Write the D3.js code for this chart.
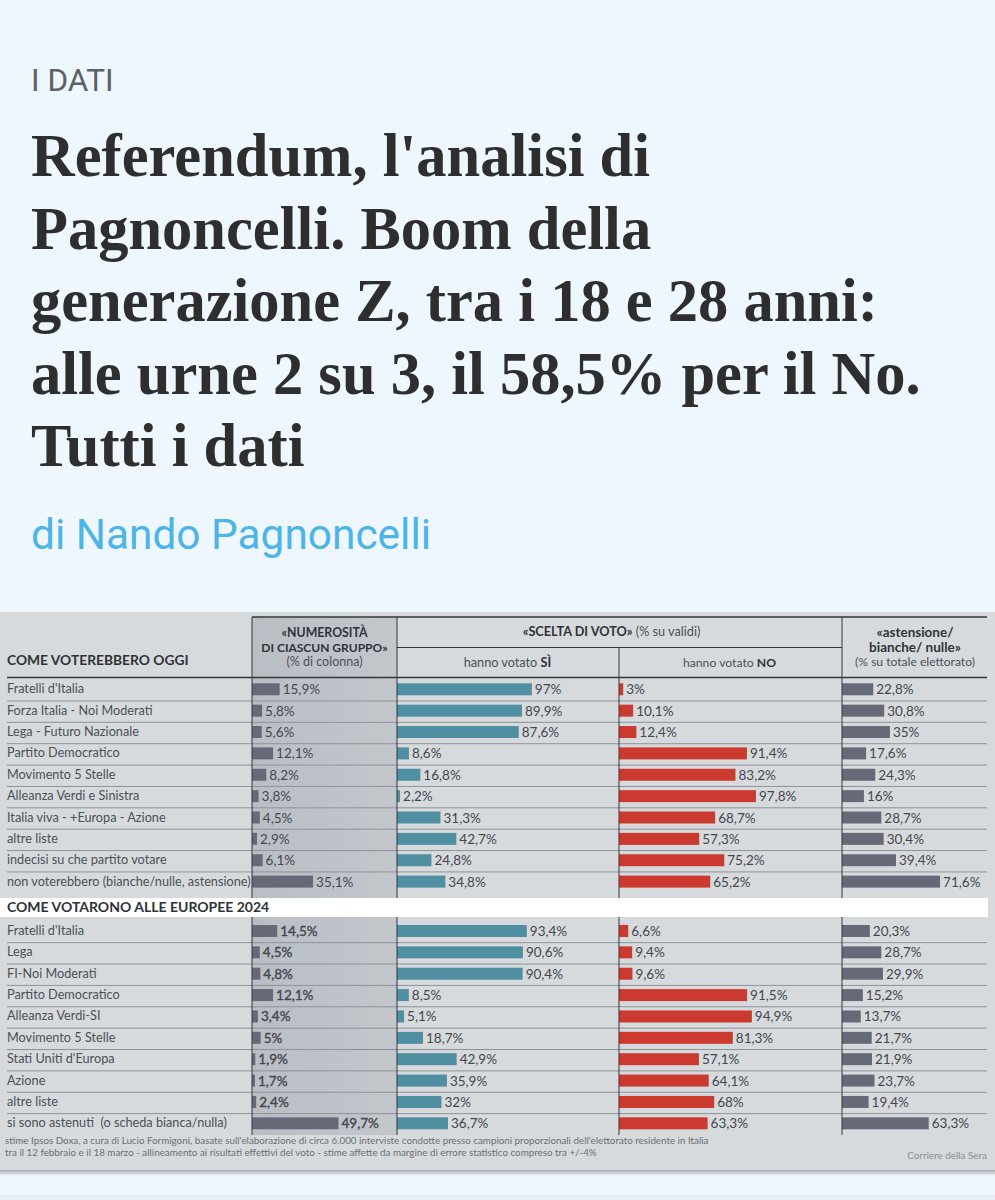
<!DOCTYPE html>
<html>
<head>
<meta charset="utf-8">
<script src="https://cdn.jsdelivr.net/npm/d3@7"></script>
<style>
  html, body { margin: 0; padding: 0; background: #eef7fe; }
  svg { display: block; }
</style>
</head>
<body>
<div class="chart"></div>
<script>
const titleLines = ["Referendum, l'analisi di", "Pagnoncelli. Boom della", "generazione Z, tra i 18 e 28 anni:", "alle urne 2 su 3, il 58,5% per il No.", "Tutti i dati"]

const namesOggi = ["Fratelli d'Italia", "Forza Italia - Noi Moderati", "Lega - Futuro Nazionale", "Partito Democratico", "Movimento 5 Stelle", "Alleanza Verdi e Sinistra", "Italia viva - +Europa - Azione", "altre liste", "indecisi su che partito votare", "non voterebbero (bianche/nulle, astensione)"]
const gruppoOggi = [15.9, 5.8, 5.6, 12.1, 8.2, 3.8, 4.5, 2.9, 6.1, 35.1]
const siOggi = [97, 89.9, 87.6, 8.6, 16.8, 2.2, 31.3, 42.7, 24.8, 34.8]
const noOggi = [3, 10.1, 12.4, 91.4, 83.2, 97.8, 68.7, 57.3, 75.2, 65.2]
const astOggi = [22.8, 30.8, 35, 17.6, 24.3, 16, 28.7, 30.4, 39.4, 71.6]

const namesEuropee = ["Fratelli d'Italia", "Lega", "FI-Noi Moderati", "Partito Democratico", "Alleanza Verdi-SI", "Movimento 5 Stelle", "Stati Uniti d'Europa", "Azione", "altre liste", "si sono astenuti  (o scheda bianca/nulla)"]
const gruppoEuropee = [14.5, 4.5, 4.8, 12.1, 3.4, 5, 1.9, 1.7, 2.4, 49.7]
const siEuropee = [93.4, 90.6, 90.4, 8.5, 5.1, 18.7, 42.9, 35.9, 32, 36.7]
const noEuropee = [6.6, 9.4, 9.6, 91.5, 94.9, 81.3, 57.1, 64.1, 68, 63.3]
const astEuropee = [20.3, 28.7, 29.9, 15.2, 13.7, 21.7, 21.9, 23.7, 19.4, 63.3]

const note1 = "stime Ipsos Doxa, a cura di Lucio Formigoni, basate sull'elaborazione di circa 6.000 interviste condotte presso campioni proporzionali dell'elettorato residente in Italia"
const note2 = "tra il 12 febbraio e il 18 marzo - allineamento ai risultati effettivi del voto - stime affette da margine di errore statistico compreso tra +/-4%"

const width = 995, height = 1200
const sans = "Lato, 'Open Sans', sans-serif"
const textCol = "#4b5056"
const ink = "#2f3338"

const svg = d3.select(".chart").append("svg")
    .attr("width", width)
    .attr("height", height)

const defs = svg.append("defs")
const grad = defs.append("linearGradient").attr("id", "colShade")
grad.append("stop").attr("offset", "0%").attr("stop-color", "#b9bec5")
grad.append("stop").attr("offset", "100%").attr("stop-color", "#c3c7cc")
const shadow = defs.append("linearGradient").attr("id", "panelShadow").attr("x2", 0).attr("y2", 1)
shadow.append("stop").attr("offset", "0%").attr("stop-color", "#a9adb1")
shadow.append("stop").attr("offset", "100%").attr("stop-color", "#eef7fe")

svg.append("rect").attr("width", width).attr("height", height).attr("fill", "#eef7fe")
svg.append("rect").attr("y", 1195).attr("width", width).attr("height", 5).attr("fill", "#e6edf3")

// page header
svg.append("text")
    .attr("x", 31).attr("y", 91)
    .attr("font-family", "Roboto, sans-serif").attr("font-size", 31.5)
    .attr("fill", "#5d6166")
    .text("I DATI")

svg.append("g").selectAll("text")
    .data(titleLines)
    .join("text")
    .attr("x", 31)
    .attr("y", (d, i) => 176 + i * 72.6)
    .attr("font-family", "'Liberation Serif', serif")
    .attr("font-weight", "bold")
    .attr("font-size", 60.5)
    .attr("fill", "#2e2e30")
    .text(d => d)

svg.append("text")
    .attr("x", 31).attr("y", 549)
    .attr("font-family", "Roboto, sans-serif").attr("font-size", 42.4)
    .attr("fill", "#4db4e8")
    .text("di Nando Pagnoncelli")

// panel
svg.append("rect").attr("x", 0).attr("y", 612).attr("width", width).attr("height", 558).attr("fill", "#d7dadd")
svg.append("rect").attr("x", 0).attr("y", 1170).attr("width", width).attr("height", 6).attr("fill", "url(#panelShadow)")

const colLeft = 252, colSi = 397, colNo = 619, colAst = 842, right = 987

svg.append("rect").attr("x", colLeft).attr("y", 617).attr("width", colSi - colLeft).attr("height", 518).attr("fill", "url(#colShade)")

// value scales, one per column
const xGruppo = d3.scaleLinear().domain([0, 100]).range([colLeft, colLeft + 174])
const xSi = d3.scaleLinear().domain([0, 100]).range([colSi, colSi + 139])
const xNo = d3.scaleLinear().domain([0, 100]).range([colNo, colNo + 140])
const xAst = d3.scaleLinear().domain([0, 100]).range([colAst, colAst + 137])

const it = d3.formatLocale({decimal: ",", thousands: ".", grouping: [3], currency: ["", "€"]})
const fmt = v => it.format(".1~f")(v) + "%"

function block(names, gruppo, si, no, ast, top, boldGruppo) {
    const y = d3.scaleBand().domain(d3.range(names.length)).range([top, top + 213.7])
    const g = svg.append("g")

    // row separators
    g.selectAll(".sep")
        .data(d3.range(1, names.length))
        .join("line")
        .attr("class", "sep")
        .attr("x1", 7).attr("x2", right)
        .attr("y1", d => y(d) + 1)
        .attr("y2", d => y(d) + 1)
        .attr("stroke", "#8e9399")
        .attr("stroke-width", 1)

    g.selectAll(".name")
        .data(names)
        .join("text")
        .attr("class", "name")
        .attr("x", 7)
        .attr("y", (d, i) => y(i) + y.bandwidth() / 2 + 4)
        .attr("font-family", sans).attr("font-size", 12.7)
        .attr("xml:space", "preserve")
        .attr("fill", textCol)
        .text(d => d)

    const cols = [
        {vals: gruppo, x: xGruppo, color: "#666a78", heavy: boldGruppo},
        {vals: si, x: xSi, color: "#4f8fa1", heavy: false},
        {vals: no, x: xNo, color: "#cc3a2f", heavy: false},
        {vals: ast, x: xAst, color: "#666a78", heavy: false}
    ]
    cols.forEach(c => {
        g.append("g").selectAll("rect")
            .data(c.vals)
            .join("rect")
            .attr("x", c.x(0))
            .attr("y", (d, i) => y(i) + y.bandwidth() / 2 - 6)
            .attr("width", d => c.x(d) - c.x(0))
            .attr("height", 12)
            .attr("fill", c.color)
        g.append("g").selectAll("text")
            .data(c.vals)
            .join("text")
            .attr("x", d => c.x(d) + 3)
            .attr("y", (d, i) => y(i) + y.bandwidth() / 2 + 5)
            .attr("font-family", sans).attr("font-size", 13.5)
            .attr("fill", "#43474d")
            .attr("stroke", c.heavy ? "#43474d" : "none")
            .attr("stroke-width", 0.35)
            .text(d => fmt(d))
    })
}

block(namesOggi, gruppoOggi, siOggi, noOggi, astOggi, 678.6, false)

// white band
svg.append("rect").attr("x", 0).attr("y", 898).attr("width", right + 1).attr("height", 19).attr("fill", "#ffffff")
svg.append("text")
    .attr("x", 7).attr("y", 912)
    .attr("font-family", sans).attr("font-size", 14).attr("font-weight", 700)
    .attr("fill", ink)
    .text("COME VOTARONO ALLE EUROPEE 2024")

block(namesEuropee, gruppoEuropee, siEuropee, noEuropee, astEuropee, 920.3, true)

// header rules
const rules = [
    [colLeft, 617, right, 617, 1.3],
    [colSi, 647.5, colAst, 647.5, 1],
    [7, 677.5, right, 677.5, 1.5],
    [colLeft, 617, colLeft, 898, 1],
    [colSi, 617, colSi, 898, 1],
    [colNo, 648, colNo, 898, 1],
    [colAst, 617, colAst, 898, 1],
    [colLeft, 917, colLeft, 1135, 1],
    [colSi, 917, colSi, 1135, 1],
    [colNo, 917, colNo, 1135, 1],
    [colAst, 917, colAst, 1135, 1]
]
svg.append("g").selectAll("line")
    .data(rules)
    .join("line")
    .attr("x1", d => d[0]).attr("y1", d => d[1])
    .attr("x2", d => d[2]).attr("y2", d => d[3])
    .attr("stroke-width", d => d[4])
    .attr("stroke", "#33373c")

function label(x, y, anchor, size, weight, color, txt) {
    return svg.append("text")
        .attr("x", x).attr("y", y)
        .attr("text-anchor", anchor)
        .attr("font-family", sans)
        .attr("font-size", size)
        .attr("font-weight", weight)
        .attr("fill", color)
        .text(txt)
}

label(7, 665, "start", 13.8, 700, ink, "COME VOTEREBBERO OGGI")
label(324.5, 637, "middle", 12.3, 700, ink, "«NUMEROSITÀ")
label(324.5, 651.5, "middle", 12, 700, ink, "DI CIASCUN GRUPPO»")
label(324.5, 666, "middle", 12.5, 400, textCol, "(% di colonna)")

const scelta = label(611.5, 636, "middle", 12.7, 700, ink, "«SCELTA DI VOTO»")
scelta.append("tspan").attr("font-weight", 400).attr("fill", textCol).text(" (% su validi)")

const siHead = label(507.5, 667, "middle", 12.7, 400, textCol, "hanno votato ")
siHead.append("tspan").attr("font-weight", 700).attr("fill", ink).text("SÌ")
const noHead = label(729.5, 667, "middle", 12.2, 400, textCol, "hanno votato ")
noHead.append("tspan").attr("font-weight", 700).attr("fill", ink).text("NO")

label(915, 637, "middle", 13.5, 700, ink, "«astensione/")
label(915, 651.5, "middle", 13.5, 700, ink, "bianche/ nulle»")
label(915, 666, "middle", 12.1, 400, textCol, "(% su totale elettorato)")

label(5, 1144, "start", 9.8, 400, "#6a6e74", note1)
label(5, 1155.5, "start", 9.8, 400, "#6a6e74", note2)
label(987, 1159, "end", 9.9, 400, "#8a8e93", "Corriere della Sera")
</script>
</body>
</html>
